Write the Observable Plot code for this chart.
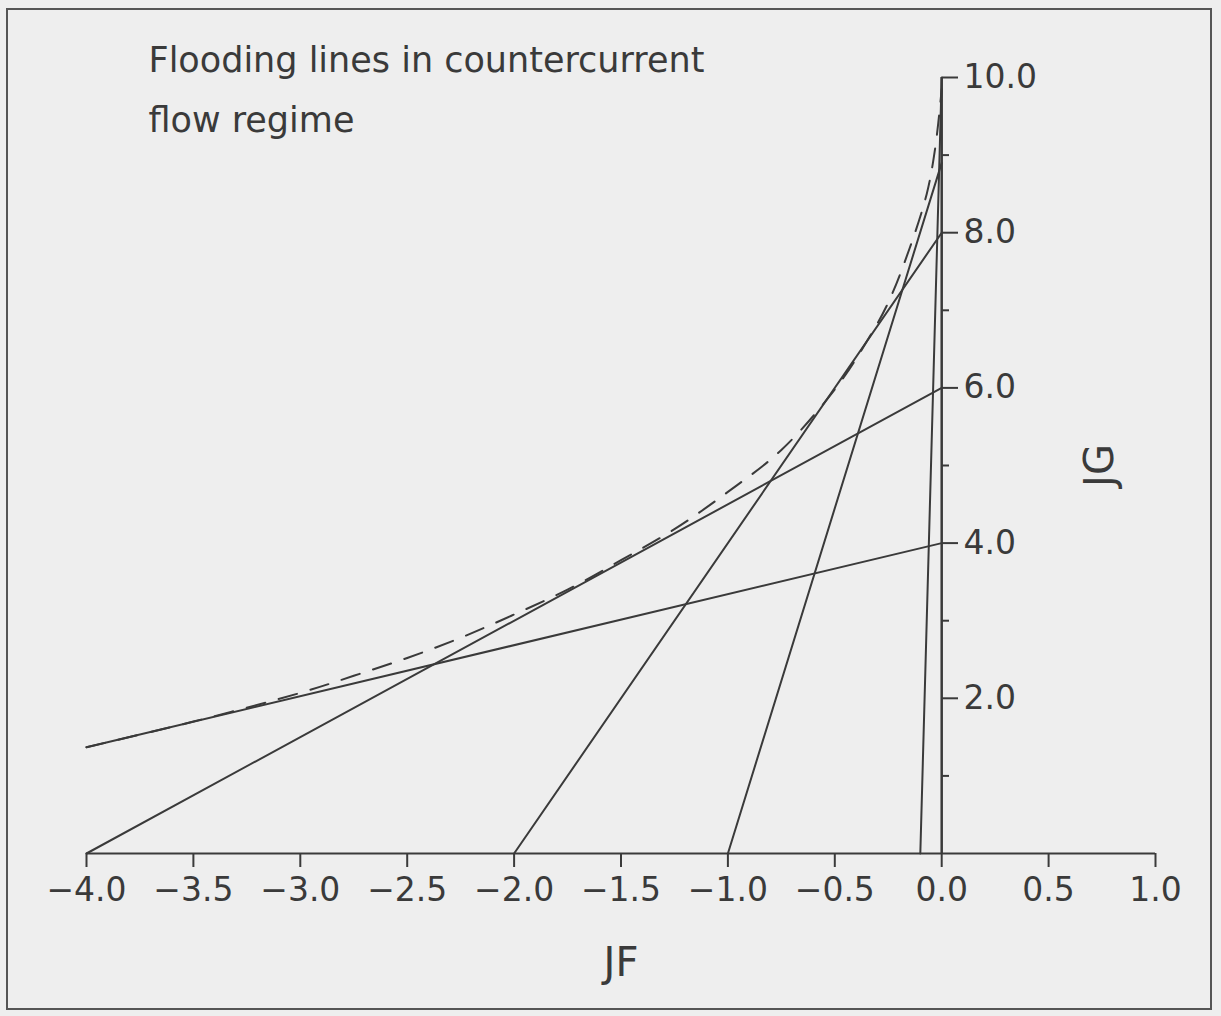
<!DOCTYPE html>
<html><head><meta charset="utf-8">
<script src="https://cdn.jsdelivr.net/npm/d3@7"></script>
<script src="https://cdn.jsdelivr.net/npm/@observablehq/plot@0.6"></script>
<style>
html,body{margin:0;padding:0;background:#eeeeee;}
#chart{position:relative;width:1221px;height:1016px;overflow:hidden;}
#chart svg{display:block;}
#border{position:absolute;left:6px;top:8px;width:1206px;height:1002px;border:2px solid #555;box-sizing:border-box;pointer-events:none;}
</style></head><body><div id="chart"><div id="border"></div></div>
<script>
// Straight flooding lines: JF end points and JG end points
const line4JF = [-4.0, 0.0];
const line4JG = [1.37, 4.0];
const line6JF = [-4.0, 0.0];
const line6JG = [0.0, 6.0];
const line8JF = [-2.0, 0.0];
const line8JG = [0.0, 8.0];
const line9JF = [-1.0, 0.0];
const line9JG = [0.0, 8.9];
const line10JF = [-0.1, 0.0];
const line10JG = [0.0, 10.0];
// Dashed envelope
const envJF = [-4.0, -3.5, -3.0, -2.75, -2.5, -2.25, -2.0, -1.75, -1.5, -1.25, -1.0, -0.75, -0.5, -0.35, -0.25, -0.15, -0.07, -0.03, 0.0];
const envJG = [1.37, 1.70, 2.07, 2.29, 2.52, 2.78, 3.08, 3.40, 3.78, 4.18, 4.66, 5.20, 5.98, 6.6, 7.1, 7.8, 8.5, 9.1, 9.85];
// Ticks and texts
const xTicks = [-4.0, -3.5, -3.0, -2.5, -2.0, -1.5, -1.0, -0.5, 0.0, 0.5, 1.0];
const yMajorTicks = [2, 4, 6, 8, 10];
const yMinorTicks = [1, 3, 5, 7, 9];
const titleLines = ["Flooding lines in countercurrent", "flow regime"];
const xLabel = "JF";
const yLabel = "JG";

const lines = [
  {id: "4", jf: line4JF, jg: line4JG},
  {id: "6", jf: line6JF, jg: line6JG},
  {id: "8", jf: line8JF, jg: line8JG},
  {id: "9", jf: line9JF, jg: line9JG},
  {id: "10", jf: line10JF, jg: line10JG}
].flatMap(l => l.jf.map((x, i) => ({id: l.id, jf: x, jg: l.jg[i]})));
const envelope = envJF.map((x, i) => ({jf: x, jg: envJG[i]}));

const fmt = d => d.toFixed(1).replace("-", "\u2212");
const ink = "#3a3a3a";
const font = "'DejaVu Sans', Verdana, sans-serif";

const chart = Plot.plot({
  width: 1221,
  height: 1016,
  marginLeft: 86,
  marginRight: 280,
  marginTop: 77,
  marginBottom: 163,
  x: {domain: [-4, 1], range: [86, 1155]},
  y: {domain: [0, 10], range: [853, 77]},
  style: {fontFamily: font, fontSize: "33px", color: ink, background: "transparent", overflow: "visible"},
  marks: [
    Plot.ruleY([0], {x1: xTicks[0], x2: xTicks[xTicks.length - 1], stroke: ink, strokeWidth: 2}),
    Plot.ruleX([0], {y1: 0, y2: yMajorTicks[yMajorTicks.length - 1], stroke: ink, strokeWidth: 2.5}),
    Plot.axisX(xTicks, {anchor: "bottom", tickSize: 14, tickPadding: 10, tickFormat: fmt, fontSize: 33, label: null, stroke: ink, strokeWidth: 2, color: ink}),
    Plot.axisY(yMajorTicks, {anchor: "right", tickSize: 16, tickPadding: 6, tickFormat: fmt, fontSize: 33, label: null, stroke: ink, strokeWidth: 2}),
    Plot.axisY(yMinorTicks, {anchor: "right", tickSize: 7, tickFormat: () => "", label: null, stroke: ink, strokeWidth: 2}),
    Plot.line(lines, {x: "jf", y: "jg", z: "id", stroke: ink, strokeWidth: 2}),
    Plot.line(envelope, {x: "jf", y: "jg", stroke: ink, strokeWidth: 2, strokeDasharray: "19,14", curve: "catmull-rom"}),
    Plot.text([titleLines.join("\n")], {frameAnchor: "top-left", dx: 62, dy: -48, lineAnchor: "top", textAnchor: "start", lineHeight: 1.72, fontSize: 35, fill: ink}),
    Plot.text([xLabel], {x: (xTicks[0] + xTicks[xTicks.length - 1]) / 2, y: 0, dy: 110, fontSize: 40, fill: ink}),
    Plot.text([yLabel], {x: xTicks[xTicks.length - 1], y: yMajorTicks[yMajorTicks.length - 1] / 2, dx: -55, rotate: -90, fontSize: 40, fill: ink})
  ]
});
document.getElementById("chart").appendChild(chart);
</script>
</body></html>
